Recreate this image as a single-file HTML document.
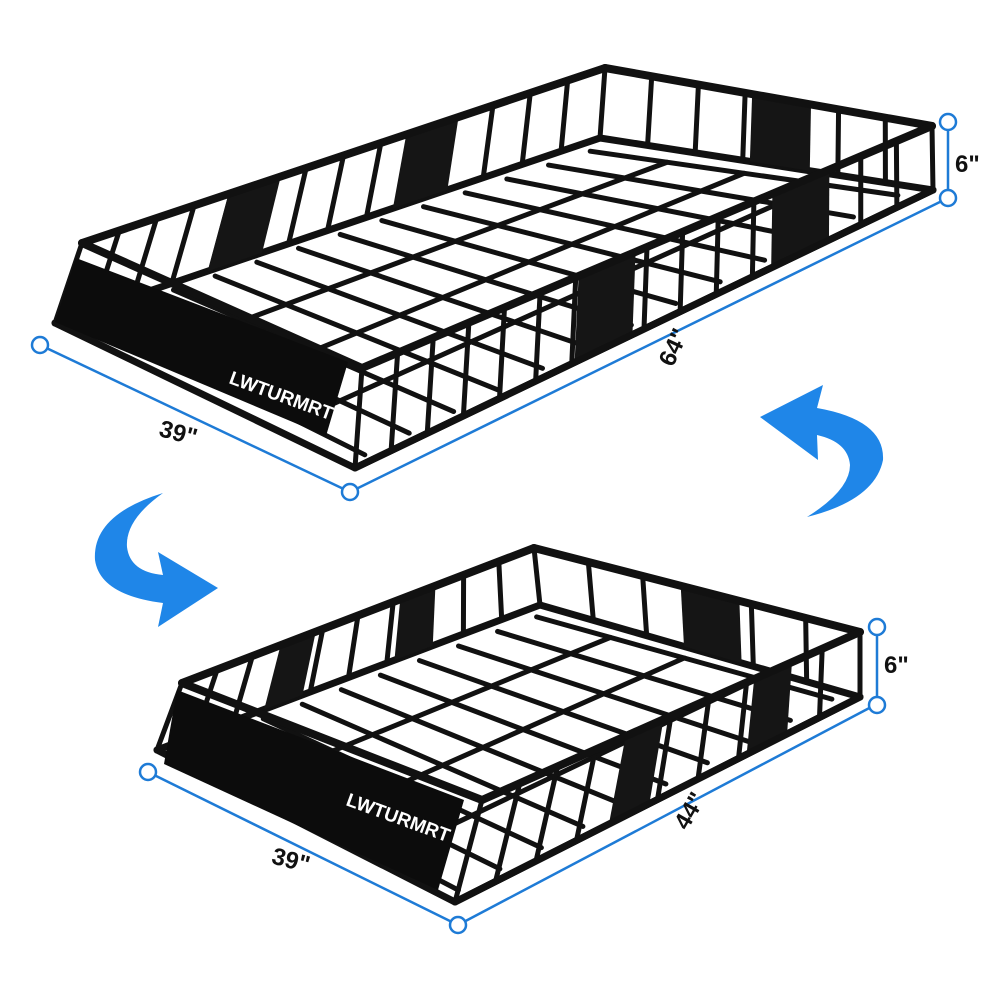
<!DOCTYPE html>
<html><head><meta charset="utf-8"><style>
html,body{margin:0;padding:0;background:#fff;width:1000px;height:1000px;overflow:hidden}
svg{display:block}
.lbl{font-family:"Liberation Sans",sans-serif;font-weight:bold;font-size:24px;fill:#111}
</style></head><body>
<svg id="s" width="1000" height="1000" viewBox="0 0 1000 1000">
<rect width="1000" height="1000" fill="#fff"/>
<g id="r1"></g><g id="r2"></g>
<g stroke="#1e7bd6" stroke-width="2.5" fill="#fff">
<line x1="40" y1="345" x2="350" y2="492"/><line x1="350" y1="492" x2="948" y2="198"/><line x1="948" y1="122" x2="948" y2="198"/>
<circle cx="40" cy="345" r="8"/><circle cx="350" cy="492" r="8"/><circle cx="948" cy="122" r="8"/><circle cx="948" cy="198" r="8"/>
<line x1="148" y1="772" x2="458" y2="925"/><line x1="458" y1="925" x2="875" y2="705"/><line x1="877" y1="627" x2="877" y2="705"/>
<circle cx="148" cy="772" r="8"/><circle cx="458" cy="925" r="8"/><circle cx="877" cy="627" r="8"/><circle cx="877" cy="705" r="8"/>
</g>
<text class="lbl" x="160" y="440" transform="rotate(15 175 430)">39"</text>
<text class="lbl" x="655" y="360" transform="rotate(-65 670 350)">64"</text>
<text class="lbl" x="955" y="172">6"</text>
<text class="lbl" x="272" y="868" transform="rotate(15 290 860)">39"</text>
<text class="lbl" x="672" y="825" transform="rotate(-60 685 815)">44"</text>
<text class="lbl" x="884" y="673">6"</text>
<path fill="#1f86e8" d="M760,417 L823,385 L817,408 Q885,420 883,460 Q875,500 807,517 Q850,490 850,465 Q848,442 817,435 L818,460 Z"/>
<path fill="#1f86e8" d="M218,588 L158,627 L163,603 Q100,595 95,560 Q92,515 163,493 Q125,520 127,547 Q130,572 163,575 L158,552 Z"/>
</svg>
<script>
function L(a,b,t){return [a[0]+(b[0]-a[0])*t,a[1]+(b[1]-a[1])*t];}
function ln(g,a,b,w){var e=document.createElementNS('http://www.w3.org/2000/svg','line');e.setAttribute('x1',a[0]);e.setAttribute('y1',a[1]);e.setAttribute('x2',b[0]);e.setAttribute('y2',b[1]);e.setAttribute('stroke','#111');e.setAttribute('stroke-width',w);e.setAttribute('stroke-linecap','round');g.appendChild(e);}
function poly(g,pts,fill){var e=document.createElementNS('http://www.w3.org/2000/svg','polygon');e.setAttribute('points',pts.map(p=>p.join(',')).join(' '));e.setAttribute('fill',fill);g.appendChild(e);}
function rack(id,T,B,F,nA,nB,nC,nFloor){
 var g=document.getElementById(id);
 var I=[L(B[0],B[2],0.04),L(B[1],B[3],0.04),L(B[2],B[0],0.04),L(B[3],B[1],0.04)];
 for(var i=0;i<=nFloor;i++){var t=i/nFloor;ln(g,L(I[0],I[1],t),L(I[3],I[2],t),5);}
 for(var s of [0.25,0.5,0.75]){ln(g,L(I[0],I[3],s),L(I[1],I[2],s),5);}
 for(var k=0;k<4;k++)ln(g,B[k],B[(k+1)%4],7);
 function ribs(i,j,n){for(var k=1;k<n;k++){var t=k/n;ln(g,L(T[i],T[j],t),L(B[i],B[j],t),5);}}
 ribs(0,1,nA);ribs(1,2,nB);ribs(2,3,nC);
 for(var k=0;k<4;k++)ln(g,T[k],B[k],5);
 function br(i,j,t,w){var a=L(T[i],T[j],t),b=L(T[i],T[j],t+w),c=L(B[i],B[j],t+w),d=L(B[i],B[j],t);poly(g,[a,b,c,d],'#151515');}
 br(0,1,0.28,0.1);br(0,1,0.62,0.1);br(1,2,0.45,0.18);br(2,3,0.18,0.1);br(2,3,0.52,0.1);
 for(var k=0;k<4;k++)ln(g,T[k],T[(k+1)%4],8);
 poly(g,F,'#0c0c0c');
 ln(g,B[2],B[3],7);
}
rack('r1',[[82,243],[605,68],[932,126],[362,368]],[[55,323],[600,138],[933,190],[355,468]],
 [[76,258],[348,362],[326,436],[55,322]],14,7,16,12);
rack('r2',[[182,683],[534,548],[860,632],[482,800]],[[157,750],[540,605],[860,697],[455,902]],
 [[177,690],[464,800],[438,890],[164,764]],10,6,10,9);
function txt(gid,x,y,r,str,fs){var e=document.createElementNS('http://www.w3.org/2000/svg','text');e.setAttribute('x',x);e.setAttribute('y',y);e.setAttribute('transform','rotate('+r+' '+x+' '+y+')');e.setAttribute('fill','#fff');e.setAttribute('font-family','Liberation Sans, sans-serif');e.setAttribute('font-size',fs);e.setAttribute('font-weight','bold');e.textContent=str;document.getElementById(gid).appendChild(e);}
txt('r1',228,383,20,'LWTURMRT',19);
txt('r2',345,805,20,'LWTURMRT',19);
</script>
</body></html>
